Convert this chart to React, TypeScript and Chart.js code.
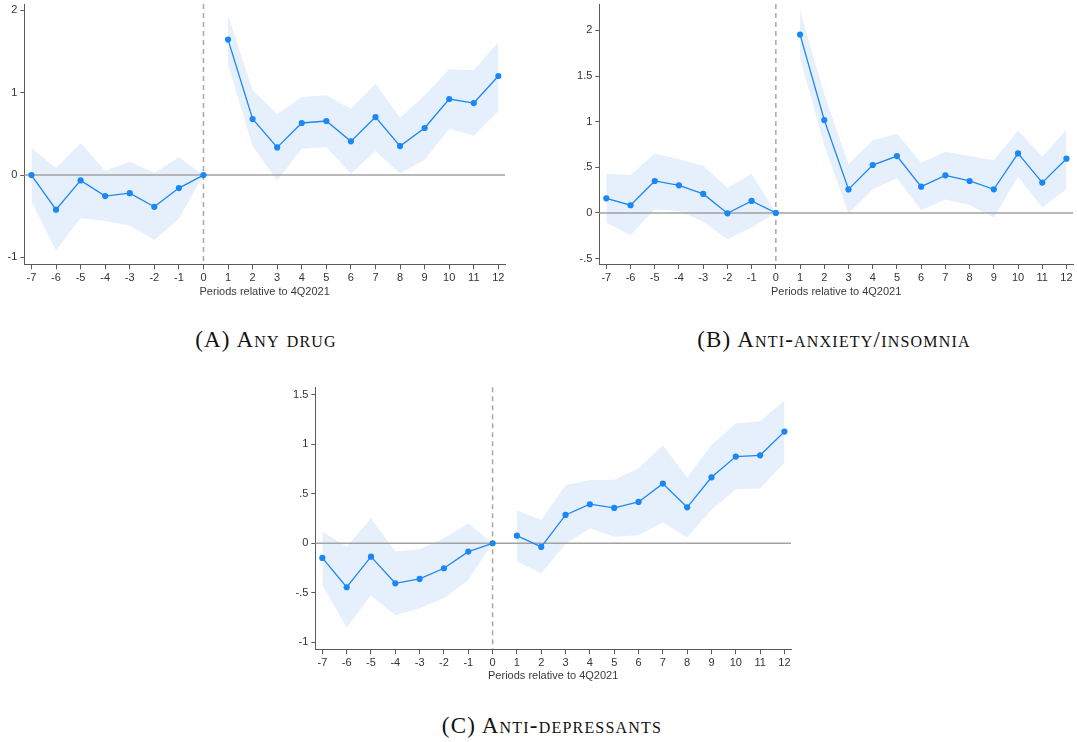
import React, { useEffect, useRef } from "react";
import { Chart, registerables } from "chart.js";

Chart.register(...registerables);

// Event time, quarters relative to 4Q2021
const PERIODS = [-7, -6, -5, -4, -3, -2, -1, 0, 1, 2, 3, 4, 5, 6, 7, 8, 9, 10, 11, 12];
const X_TICKS = PERIODS;
const X_MIN = -7.29;
const X_MAX = 12.27;

// (a) Any drug
const ANY_COEF = [0, -0.42, -0.065, -0.255, -0.22, -0.385, -0.158, 0, 1.644, 0.68, 0.336, 0.632, 0.656, 0.409, 0.704, 0.352, 0.571, 0.923, 0.874, 1.202];
const ANY_HI = [0.328, 0.085, 0.389, 0.053, 0.162, 0.028, 0.215, 0, 1.94, 1.028, 0.737, 0.947, 0.968, 0.806, 1.109, 0.696, 0.968, 1.283, 1.271, 1.615];
const ANY_LO = [-0.324, -0.915, -0.522, -0.559, -0.611, -0.789, -0.53, 0, 1.34, 0.348, -0.065, 0.32, 0.34, 0.016, 0.291, 0.016, 0.186, 0.563, 0.478, 0.773];
const ANY_Y_TICKS = [-1, 0, 1, 2];

// (b) Anti-anxiety / insomnia
const ANX_COEF = [0.16, 0.084, 0.35, 0.302, 0.208, -0.004, 0.131, 0, 1.955, 1.018, 0.258, 0.525, 0.623, 0.288, 0.412, 0.35, 0.259, 0.652, 0.332, 0.594];
const ANX_HI = [0.43, 0.415, 0.652, 0.587, 0.517, 0.277, 0.43, 0, 2.22, 1.3, 0.537, 0.794, 0.867, 0.55, 0.67, 0.623, 0.576, 0.903, 0.616, 0.914];
const ANX_LO = [-0.106, -0.244, 0.04, 0.022, -0.098, -0.288, -0.16, 0, 1.7, 0.74, -0.007, 0.259, 0.379, 0.029, 0.146, 0.087, -0.051, 0.397, 0.058, 0.259];
const ANX_Y_TICKS = [-0.5, 0, 0.5, 1, 1.5, 2];

// (c) Anti-depressants
const DEP_COEF = [-0.148, -0.444, -0.135, -0.404, -0.36, -0.252, -0.084, 0, 0.077, -0.037, 0.286, 0.394, 0.357, 0.417, 0.602, 0.363, 0.666, 0.875, 0.888, 1.127];
const DEP_HI = [0.118, -0.034, 0.252, -0.084, -0.061, 0.05, 0.202, 0, 0.33, 0.235, 0.585, 0.639, 0.642, 0.757, 0.989, 0.663, 0.992, 1.208, 1.231, 1.44];
const DEP_LO = [-0.42, -0.851, -0.528, -0.727, -0.656, -0.555, -0.37, 0, -0.185, -0.303, -0.007, 0.151, 0.067, 0.081, 0.209, 0.061, 0.336, 0.545, 0.552, 0.814];
const DEP_Y_TICKS = [-1, -0.5, 0, 0.5, 1, 1.5];

const X_TITLE = "Periods relative to 4Q2021";

const BLUE = "#1b87f5";
const BAND = "#e6f0fd";
const AXIS = "#5a5a5a";
const TICK_FONT = { family: "'Liberation Sans', Arial, sans-serif", size: 11 };

// Stata-style number labels: ".5" and "-.5" rather than "0.5"
const fmt = (v: number) => String(v).replace(/^(-?)0\./, "$1.");

type Pt = { x: number; y: number };
const toPoints = (vals: number[], keep: (p: number) => boolean): Pt[] =>
  PERIODS.map((p, i) => ({ x: p, y: vals[i] })).filter((pt) => keep(pt.x));

const isPre = (p: number) => p <= 0;
const isPost = (p: number) => p > 0;

// Zero line and dashed event line, drawn over the band, under the estimates
const refLines = {
  id: "refLines",
  beforeDatasetsDraw(chart: any) {
    const { ctx, chartArea, scales } = chart;
    const y0 = scales.y.getPixelForValue(0);
    const x0 = scales.x.getPixelForValue(0);
    ctx.save();
    ctx.lineWidth = 1.5;
    ctx.strokeStyle = "#a2a2a2";
    ctx.beginPath();
    ctx.moveTo(chartArea.left, y0);
    ctx.lineTo(chartArea.right, y0);
    ctx.stroke();
    ctx.setLineDash([5, 4]);
    ctx.strokeStyle = "#a8a8a8";
    ctx.beginPath();
    ctx.moveTo(x0, chartArea.top);
    ctx.lineTo(x0, chartArea.bottom);
    ctx.stroke();
    ctx.restore();
  },
};

type PanelProps = {
  coef: number[];
  hi: number[];
  lo: number[];
  yTicks: number[];
  yMin: number;
  yMax: number;
  left: number;
  top: number;
  width: number;
  height: number;
  yAxisWidth: number;
  xAxisHeight: number;
  padTop: number;
  padRight: number;
};

function Panel(props: PanelProps) {
  const ref = useRef<HTMLCanvasElement | null>(null);
  useEffect(() => {
    if (!ref.current) return;
    const bandSet = (vals: number[], keep: (p: number) => boolean, fill: any) => ({
      data: toPoints(vals, keep),
      borderWidth: 0,
      pointRadius: 0,
      backgroundColor: BAND,
      borderColor: "rgba(0,0,0,0)",
      fill,
    });
    const coefSet = (keep: (p: number) => boolean) => ({
      data: toPoints(props.coef, keep),
      borderColor: BLUE,
      borderWidth: 1.3,
      pointRadius: 3.1,
      pointBackgroundColor: BLUE,
      pointBorderWidth: 0,
      fill: false,
    });
    const chart = new Chart(ref.current, {
      type: "line",
      data: {
        datasets: [
          bandSet(props.lo, isPre, false),
          bandSet(props.hi, isPre, "-1"),
          bandSet(props.lo, isPost, false),
          bandSet(props.hi, isPost, "-1"),
          coefSet(isPre),
          coefSet(isPost),
        ] as any,
      },
      options: {
        animation: false,
        responsive: false,
        events: [],
        layout: { padding: { top: props.padTop, right: props.padRight, left: 0, bottom: 0 } },
        plugins: {
          legend: { display: false },
          tooltip: { enabled: false },
          filler: { drawTime: "beforeDatasetsDraw" } as any,
        },
        scales: {
          x: {
            type: "linear",
            min: X_MIN,
            max: X_MAX,
            afterBuildTicks: (s: any) => {
              s.ticks = X_TICKS.map((v) => ({ value: v }));
            },
            afterFit: (s: any) => {
              s.height = props.xAxisHeight;
              s.paddingLeft = 0;
              s.paddingRight = 0;
            },
            grid: { display: true, drawOnChartArea: false, drawTicks: true, tickLength: 5, tickColor: AXIS, tickWidth: 1 },
            border: { display: true, color: AXIS, width: 1 },
            ticks: {
              autoSkip: false,
              maxRotation: 0,
              padding: 2,
              color: "#333",
              font: TICK_FONT,
              callback: (v: any) => fmt(Number(v)),
            },
            title: {
              display: true,
              text: X_TITLE,
              color: "#3a3a3a",
              font: TICK_FONT,
              padding: { top: 0, bottom: 0 },
            },
          },
          y: {
            type: "linear",
            min: props.yMin,
            max: props.yMax,
            afterBuildTicks: (s: any) => {
              s.ticks = props.yTicks.map((v) => ({ value: v }));
            },
            afterFit: (s: any) => {
              s.width = props.yAxisWidth;
              s.paddingTop = 0;
              s.paddingBottom = 0;
            },
            grid: { display: true, drawOnChartArea: false, drawTicks: true, tickLength: 4, tickColor: AXIS, tickWidth: 1 },
            border: { display: true, color: AXIS, width: 1 },
            ticks: {
              padding: 3,
              color: "#333",
              font: TICK_FONT,
              callback: (v: any) => fmt(Number(v)),
            },
          },
        },
      },
      plugins: [refLines],
    });
    return () => chart.destroy();
  }, []);
  return (
    <canvas
      ref={ref}
      width={props.width}
      height={props.height}
      style={{ position: "absolute", left: props.left, top: props.top, width: props.width, height: props.height }}
    />
  );
}

const captionStyle = (cx: number, cy: number): React.CSSProperties => ({
  position: "absolute",
  left: cx,
  top: cy,
  transform: "translate(-50%, -50%)",
  fontFamily: "'Liberation Serif', 'DejaVu Serif', serif",
  fontVariant: "small-caps",
  fontSize: 23,
  letterSpacing: "1.2px",
  color: "#111",
  whiteSpace: "nowrap",
});

export default function App() {
  return (
    <div style={{ position: "absolute", left: 0, top: 0, width: 1077, height: 742, background: "#fff", overflow: "hidden" }}>
      <Panel
        coef={ANY_COEF}
        hi={ANY_HI}
        lo={ANY_LO}
        yTicks={ANY_Y_TICKS}
        yMin={-1.083}
        yMax={2.076}
        left={0}
        top={0}
        width={509}
        height={299}
        yAxisWidth={24.3}
        xAxisHeight={34.7}
        padTop={3}
        padRight={0}
      />
      <Panel
        coef={ANX_COEF}
        hi={ANX_HI}
        lo={ANX_LO}
        yTicks={ANX_Y_TICKS}
        yMin={-0.56}
        yMax={2.29}
        left={560}
        top={0}
        width={517}
        height={299}
        yAxisWidth={39.3}
        xAxisHeight={35}
        padTop={3}
        padRight={0}
      />
      <Panel
        coef={DEP_COEF}
        hi={DEP_HI}
        lo={DEP_LO}
        yTicks={DEP_Y_TICKS}
        yMin={-1.07}
        yMax={1.574}
        left={280}
        top={380}
        width={515}
        height={303}
        yAxisWidth={35.3}
        xAxisHeight={33.7}
        padTop={7.3}
        padRight={1.7}
      />
      <div style={captionStyle(266, 340)}>(A) Any drug</div>
      <div style={captionStyle(834, 340)}>(B) Anti-anxiety/insomnia</div>
      <div style={captionStyle(552, 726)}>(C) Anti-depressants</div>
    </div>
  );
}
